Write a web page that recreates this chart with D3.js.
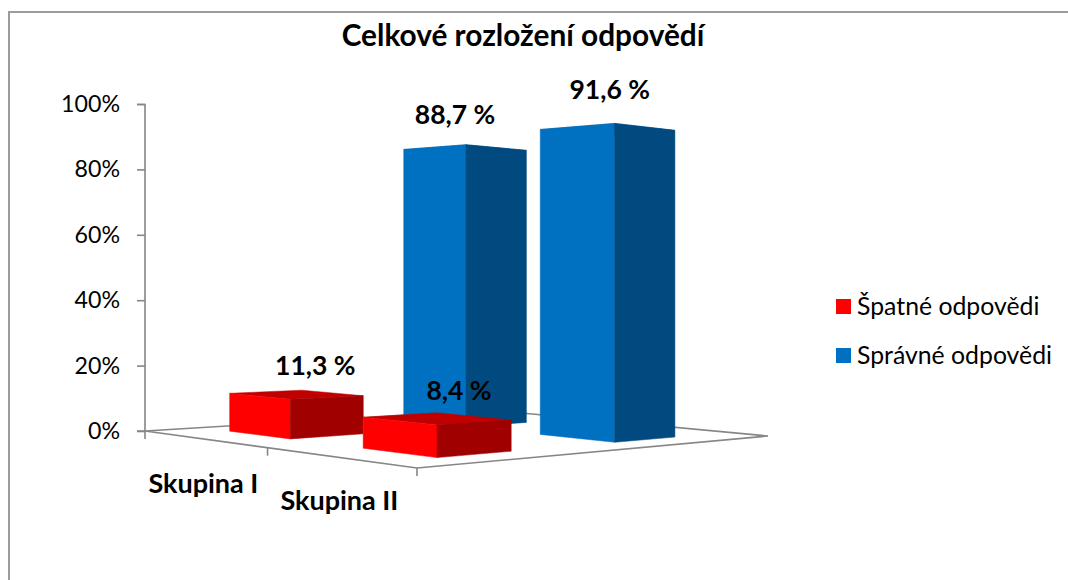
<!DOCTYPE html>
<html><head><meta charset="utf-8">
<script src="https://cdn.jsdelivr.net/npm/d3@7/dist/d3.min.js"></script>
<style>html,body{margin:0;padding:0;background:#fff}svg{display:block}text{font-family:Lato,"Open Sans",sans-serif;fill:#000}</style>
</head><body><svg id="c" width="1068" height="580"></svg>
<script>
const title = "Celkové rozložení odpovědí";
const categories = ["Skupina I", "Skupina II"];
const series = ["Špatné odpovědi", "Správné odpovědi"];
const wrongValues = [11.3, 8.4];
const rightValues = [88.7, 91.6];
const percentTicks = [0, 20, 40, 60, 80, 100];

const svg = d3.select("#c");
const axisGray = "#868686";
const palette = [
  {front:"#FF0000", side:"#A00000", top:"#C00000"},
  {front:"#0070C0", side:"#004A7F", top:"#005A9A"}
];

svg.append("path").attr("d","M9,580V12H1068").attr("fill","none").attr("stroke","#9c9c9c").attr("stroke-width",2);

const y = d3.scaleLinear().domain([0,100]).range([431,104]);

// floor plane homography: (s,t) unit square -> screen quad
const L=[145,431],F=[417,468],R=[768,436],B=[489,410];
const dx1=F[0]-R[0],dy1=F[1]-R[1],dx2=B[0]-R[0],dy2=B[1]-R[1];
const sx=L[0]-F[0]+R[0]-B[0],sy=L[1]-F[1]+R[1]-B[1];
const den=dx1*dy2-dx2*dy1;
const g=(sx*dy2-dx2*sy)/den,h=(dx1*sy-sx*dy1)/den;
const ma=F[0]-L[0]+g*F[0],mb=B[0]-L[0]+h*B[0],md=F[1]-L[1]+g*F[1],me=B[1]-L[1]+h*B[1];
const heightGain=1.03;
function project(s,t,v){
  const w=g*s+h*t+1;
  return [(ma*s+mb*t+L[0])/w,(md*s+me*t+L[1])/w-heightGain*(y(0)-y(v))/w];
}
const sBand=d3.scaleBand().domain(categories).range([.1225,.8795]).paddingInner(.522);
const tBand=d3.scaleBand().domain(series).range([.14,.815]).paddingInner(.608);

// floor lines
const floor=svg.append("g").attr("fill","none").attr("stroke",axisGray).attr("stroke-width",1.6);
floor.append("path").attr("d",d3.line()([L,F,R,B,L]));
[0,.5,1].forEach(s=>{const p=project(s,0,0);
  floor.append("line").attr("x1",p[0]).attr("x2",p[0]).attr("y1",p[1]).attr("y2",p[1]+8);});

// value axis
const axis=svg.append("g").attr("transform","translate(145,0)")
  .call(d3.axisLeft(y).tickValues(percentTicks).tickFormat(d=>d+"%").tickSize(8).tickPadding(17));
axis.selectAll("path,line").attr("stroke",axisGray).attr("stroke-width",1.6);
axis.selectAll("text").attr("font-size",23.2).style("font-family","Lato");
axis.select(".domain").attr("d","M-8,104.5H0V431H-8");

const fmt=d3.formatLocale({decimal:",",thousands:" ",grouping:[3],currency:["",""]}).format(".1f");
const values=[wrongValues,rightValues];
const bars=[];
[1,0].forEach(si=>categories.forEach((c,ci)=>bars.push({si,ci,c,v:values[si][ci]})));

const labelNudge={"0-0":[25,-33],"0-1":[22,-34],"1-0":[-11,-30],"1-1":[-5,-33]};
const barG=svg.append("g");
const line=d3.line();
bars.forEach(b=>{
  const s0=sBand(b.c),s1=s0+sBand.bandwidth(),t0=tBand(series[b.si]),t1=t0+tBand.bandwidth();
  const col=palette[b.si];
  const poly=(pts,fill)=>barG.append("path").attr("d",line(pts)+"Z").attr("fill",fill).attr("stroke",fill).attr("stroke-width",.5);
  poly([project(s0,t0,b.v),project(s1,t0,b.v),project(s1,t1,b.v),project(s0,t1,b.v)],col.top);
  poly([project(s0,t0,0),project(s1,t0,0),project(s1,t0,b.v),project(s0,t0,b.v)],col.front);
  poly([project(s1,t0,0),project(s1,t1,0),project(s1,t1,b.v),project(s1,t0,b.v)],col.side);
  b.anchor=project(s1,t0,b.v);
});
bars.forEach(b=>{
  const n=labelNudge[b.si+"-"+b.ci];
  svg.append("text").attr("x",b.anchor[0]+n[0]).attr("y",b.anchor[1]+n[1]+9)
    .attr("text-anchor","middle").attr("font-size",26.5).attr("font-weight",700)
    .text(fmt(b.v)+" %");
});

// category labels
const catPos=[.25,.75];
categories.forEach((c,i)=>{
  const p=project(catPos[i],0,0);
  svg.append("text").attr("x",p[0]+[0,1][i]).attr("y",p[1]+[54,53][i]).attr("text-anchor","middle")
    .attr("font-size",27).attr("font-weight",700).text(c);
});

svg.append("text").attr("x",523).attr("y",46).attr("text-anchor","middle")
  .attr("font-size",29.8).attr("font-weight",700).text(title);

// legend
const ly=d3.scalePoint().domain(series).range([306.5,355.5]);
series.forEach((n,i)=>{
  svg.append("rect").attr("x",836).attr("y",ly(n)-7.5).attr("width",15).attr("height",15).attr("fill",palette[i].front);
  svg.append("text").attr("x",857).attr("y",ly(n)+8).attr("font-size",24.8).text(n);
});
</script></body></html>
